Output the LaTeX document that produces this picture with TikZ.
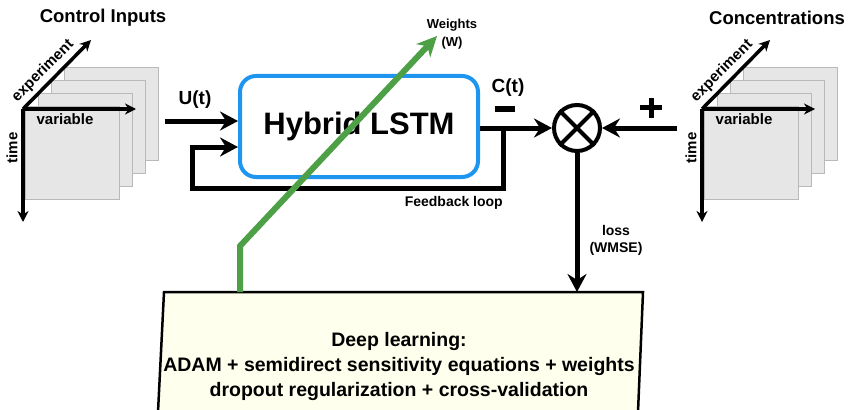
\documentclass[tikz,border=0pt]{standalone}
\usepackage{fontspec}
\setmainfont{Liberation Sans}
\usetikzlibrary{arrows.meta,calc}
\definecolor{lstmblue}{RGB}{30,150,240}
\definecolor{wgreen}{RGB}{77,160,70}
\definecolor{sheetfill}{RGB}{230,230,230}
\definecolor{sheetedge}{RGB}{185,185,185}
\definecolor{dlfill}{RGB}{255,255,238}
\begin{document}
\begin{tikzpicture}[x=1pt,y=-1pt,
  txt/.style={font=\bfseries\fontsize{#1}{#1}\selectfont, inner sep=0pt},
  sheet/.style={draw=sheetedge, fill=sheetfill, line width=1pt},
  axis/.style={line width=3.5pt, -{Stealth[length=11pt,width=11pt,inset=3.5pt]}},
  flow/.style={line width=5pt, line join=miter, -{Stealth[length=18pt,width=19pt,inset=6pt]}},
  signbar/.style={line width=5pt},
  learnarrow/.style={wgreen, line width=6pt, line join=miter, -{Stealth[length=20pt,width=19pt,inset=6pt]}},
]
\useasboundingbox (0,0) rectangle (850,409);

% data cubes: stacked sheets with experiment / variable / time axes
\foreach \ox/\nm in {23/ci, 702/cc} {
  \begin{scope}[shift={(\ox,109)}]
    \foreach \k in {3,2,1,0} {
      \draw[sheet] (2+13*\k,-2-13*\k) rectangle ++(94,92);
    }
    \coordinate (\nm-o) at (0,0);
    \coordinate (\nm-exp) at (68,-69);
    \coordinate (\nm-var) at (113,0);
    \coordinate (\nm-time) at (0,113);
    \draw[axis] (\nm-o) -- (\nm-exp);
    \draw[axis] (\nm-o) -- (\nm-var);
    \draw[axis] (\nm-o) -- (\nm-time);
    \node[txt=15] (\nm-varlbl) at (42,10) {variable};
    \node[txt=15, rotate=90] (\nm-timelbl) at (-11,39) {time};
    \node[txt=15, rotate=45] (\nm-explbl) at (20,-38) {experiment};
  \end{scope}
}
\node[txt=18.5] (citle) at (103,18) {Control Inputs};
\node[txt=18.5] (cctitle) at (777,18) {Concentrations};

% learning block (slightly slanted box)
\coordinate (dl1) at (164,292);
\coordinate (dl2) at (643,292);
\coordinate (dl3) at (638,412);
\coordinate (dl4) at (158,412);
\draw[fill=dlfill, line width=2.5pt, line join=miter] (dl1) -- (dl2) -- (dl3) -- (dl4) -- cycle;
\node[font=\bfseries\fontsize{19.5}{25}\selectfont, align=center, inner sep=0pt] (dl) at (399,366)
  {Deep learning:\\ADAM + semidirect sensitivity equations + weights\\dropout regularization + cross-validation};

% model block
\node[draw=lstmblue, line width=4pt, rounded corners=16pt, minimum width=238pt, minimum height=101pt,
      inner sep=0pt, font=\bfseries\fontsize{31}{31}\selectfont] (lstm) at (359,126.5) {Hybrid LSTM};

% comparison node
\node[draw, circle, line width=4pt, minimum size=46pt, inner sep=0pt] (sum) at (577,128) {};
\draw[line width=4pt] (sum.north west) -- (sum.south east);
\draw[line width=4pt] (sum.north east) -- (sum.south west);

% signals
\coordinate (uin) at (165,121);
\coordinate (fbin) at (192,147);
\coordinate (fb) at (503,128);
\coordinate (fbl) at (192,188);
\coordinate (cin) at (677,128);
\draw[flow] (uin) -- (lstm.west |- uin);
\draw[flow] (lstm.east |- sum.west) -- (sum.west);
\draw[line width=5pt, line join=miter, -{Stealth[length=18pt,width=19pt,inset=6pt]}]
  (fb) |- (fbl) -- (fbin) -- (lstm.west |- fbin);
\draw[flow] (cin) -- (sum.east);
\draw[flow] (sum.south) -- (sum.south |- dl1);

% labels
\node[txt=19] (ulbl) at (195,100) {U(t)};
\node[txt=19] (clbl) at (508,88) {C(t)};
\node[txt=14, anchor=east] (fblbl) at (503,203) {Feedback loop};
\node[font=\bfseries\fontsize{14}{17}\selectfont, align=center, inner sep=0pt] (losslbl) at (616,240) {loss\\(WMSE)};

% signs at the comparison node
\coordinate (minus) at (505,109);
\draw[signbar] ($(minus)+(-10,0)$) -- ($(minus)+(10,0)$);
\coordinate (plus) at (651,108);
\draw[signbar] ($(plus)+(-11,0)$) -- ($(plus)+(11,0)$);
\draw[signbar] ($(plus)+(0,-10)$) -- ($(plus)+(0,10)$);

% weight update path
\coordinate (gbase) at (240,292);
\coordinate (gbend) at (240,246);
\coordinate (wtip) at (437,36);
\draw[learnarrow] (gbase) -- (gbend) -- (wtip);
\node[font=\bfseries\fontsize{13}{18}\selectfont, align=center, inner sep=0pt] (wlbl) at (452,34) {Weights\\(W)};
\end{tikzpicture}
\end{document}
